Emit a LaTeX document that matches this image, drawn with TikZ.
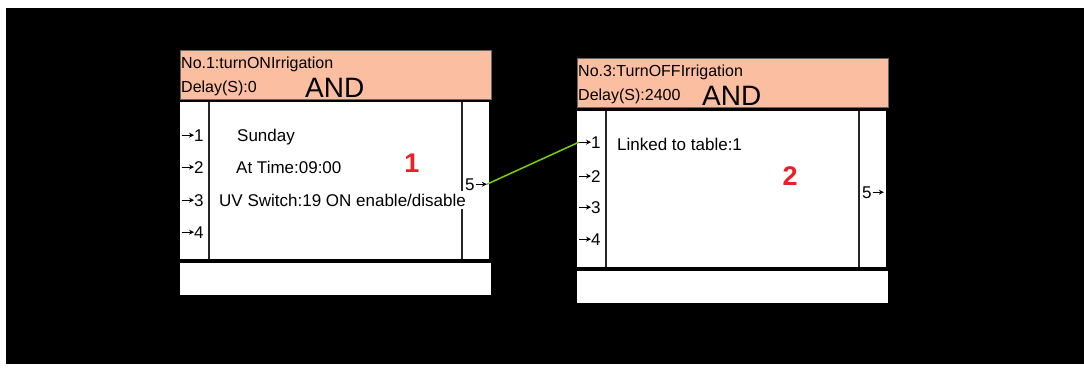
\documentclass[tikz,border=0pt]{standalone}
\usepackage{fontspec}
\setmainfont{Liberation Sans}
\usetikzlibrary{arrows.meta, positioning}
\definecolor{hdrfill}{RGB}{252,190,160}
\definecolor{wirecol}{RGB}{120,210,0}
\definecolor{tagred}{RGB}{232,32,40}

\begin{document}
\begin{tikzpicture}[x=1pt, y=-1pt,
  hdr/.style={fill=hdrfill, draw=black!60, line width=0.6pt},
  panel/.style={fill=white},
  divider/.style={line width=1.6pt, black!85},
  lbl/.style={inner sep=0pt, font=\fontsize{16}{18}\selectfont},
  txt/.style={inner sep=0pt, font=\fontsize{17}{19}\selectfont},
  big/.style={inner sep=0pt, font=\fontsize{28}{30}\selectfont},
  tag/.style={inner sep=0pt, text=tagred, font=\fontsize{27}{30}\selectfont\bfseries},
  port/.style={inner sep=0pt, font=\fontsize{17}{19}\selectfont},
  pin/.style={-{Stealth[length=5pt, width=5pt]}, line width=1.1pt},
  wire/.style={wirecol, line width=1.5pt}]
\useasboundingbox[fill=white] (0,0) rectangle (1084,367);
\fill[black] (6,8) rectangle (1084,364);

% block 1
\path[hdr] (180,50) rectangle (491,99);
\fill[panel] (180,102) rectangle (489,259);
\fill[panel] (180,263) rectangle (491,295);
\draw[divider] (209,102) -- (209,259);
\draw[divider] (462,102) -- (462,259);
\node[lbl, anchor=base west] (A-name) at (181,68) {No.1:turnONIrrigation};
\node[lbl, anchor=base west] (A-delay) at (181,92) {Delay(S):0};
\node[big, anchor=base west] (A-gate) at (305,97) {AND};
\foreach \i/\yy in {1/141, 2/173, 3/206, 4/238} {
  \node[port, anchor=base west] (A-in\i) at (194,\yy) {\i};
  \draw[pin] ([xshift=-12pt]A-in\i.west) -- (A-in\i.west);
}
\node[txt, anchor=base west] (A-day) at (237,141) {Sunday};
\node[txt, anchor=base west] (A-time) at (236,173) {At Time:09:00};
\node[txt, anchor=base west, fill=white, inner ysep=3pt] (A-uv) at (219,206) {UV Switch:19 ON enable/disable};
\node[tag, anchor=base] (A-tag) at (412,172) {1};
\node[port, anchor=base west] (A-out) at (465,190) {5};
\draw[pin] ([xshift=1pt]A-out.east) -- ++(11,0) coordinate (A-tip);

% block 2
\path[hdr] (577,58) rectangle (888,107);
\fill[panel] (577,111) rectangle (886,267);
\fill[panel] (577,271) rectangle (888,303);
\draw[divider] (606,111) -- (606,267);
\draw[divider] (859,111) -- (859,267);
\node[lbl, anchor=base west] (B-name) at (578,76) {No.3:TurnOFFIrrigation};
\node[lbl, anchor=base west] (B-delay) at (578,100) {Delay(S):2400};
\node[big, anchor=base west] (B-gate) at (702,105) {AND};
\foreach \i/\yy in {1/148, 2/182, 3/213, 4/245} {
  \node[port, anchor=base west] (B-in\i) at (591,\yy) {\i};
  \draw[pin] ([xshift=-12pt]B-in\i.west) coordinate (B-tail\i) -- (B-in\i.west);
}
\node[txt, anchor=base west] (B-link) at (617,150) {Linked to table:1};
\node[tag, anchor=base] (B-tag) at (790,185) {2};
\node[port, anchor=base west] (B-out) at (862,198) {5};
\draw[pin] ([xshift=1pt]B-out.east) -- ++(11,0) coordinate (B-tip);

% link
\draw[wire] (A-tip) -- (B-tail1);
\end{tikzpicture}
\end{document}
